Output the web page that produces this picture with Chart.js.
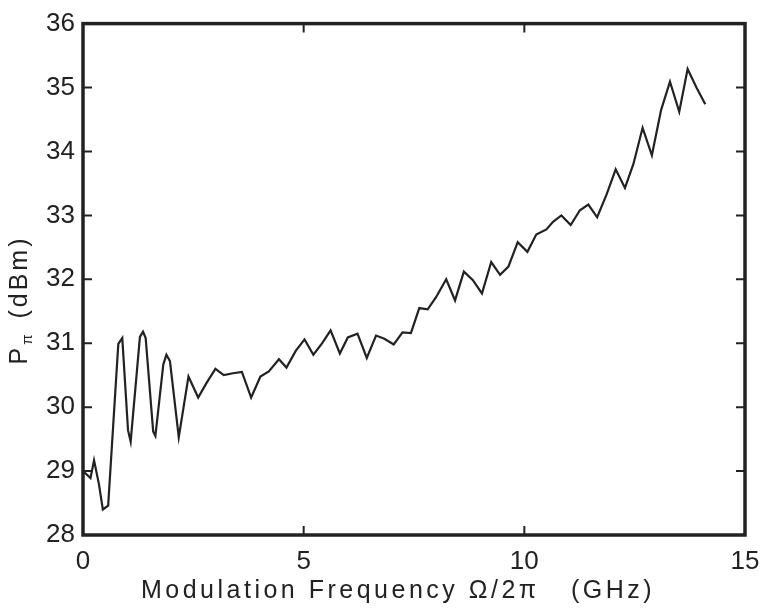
<!DOCTYPE html>
<html lang="en">

<head>
  <meta charset="UTF-8">
  <title>P pi vs modulation frequency</title>
  <script src="https://cdn.jsdelivr.net/npm/chart.js"></script>
  <style>
    body {
      margin: 0;
      background: #fff;
    }

    .wrap {
      position: relative;
      width: 763px;
      height: 610px;
    }
  </style>
</head>

<body>
  <div class="wrap"><canvas id="g"></canvas></div>

  <script>
    // frequency (GHz) and P_pi (dBm)
    const freq = [0.00, 0.17, 0.25, 0.36, 0.45, 0.57, 0.80, 0.89, 1.02, 1.08,
      1.29, 1.36, 1.42, 1.59, 1.64, 1.82, 1.89, 1.97, 2.17, 2.39,
      2.61, 2.80, 3.00, 3.19, 3.40, 3.60, 3.81, 4.02, 4.21, 4.44,
      4.61, 4.82, 5.02, 5.22, 5.42, 5.61, 5.82, 6.00, 6.22, 6.43,
      6.64, 6.83, 7.04, 7.24, 7.43, 7.62, 7.81, 8.00, 8.23, 8.43,
      8.63, 8.83, 9.04, 9.25, 9.45, 9.64, 9.85, 10.07, 10.27, 10.50,
      10.65, 10.84, 11.05, 11.26, 11.45, 11.65, 11.86, 12.07, 12.28, 12.47,
      12.68, 12.89, 13.10, 13.30, 13.51, 13.70, 13.90, 14.10];
    const ppi = [29.00, 28.89, 29.17, 28.80, 28.40, 28.46, 30.99, 31.08, 29.64, 29.46,
      31.10, 31.18, 31.08, 29.62, 29.55, 30.67, 30.82, 30.72, 29.53, 30.48,
      30.15, 30.38, 30.60, 30.50, 30.53, 30.55, 30.15, 30.48, 30.56, 30.75,
      30.62, 30.88, 31.06, 30.82, 31.00, 31.20, 30.84, 31.09, 31.15, 30.77,
      31.12, 31.07, 30.98, 31.17, 31.16, 31.55, 31.53, 31.72, 32.00, 31.67,
      32.12, 31.99, 31.78, 32.27, 32.07, 32.20, 32.58, 32.43, 32.70, 32.78,
      32.90, 33.00, 32.85, 33.08, 33.17, 32.97, 33.32, 33.72, 33.43, 33.80,
      34.37, 33.94, 34.65, 35.09, 34.62, 35.29, 35.00, 34.74];
    const xTicks = [0, 5, 10, 15];
    const yTicks = [28, 29, 30, 31, 32, 33, 34, 35, 36];
    const xTitle = 'Modulation Frequency Ω/2π   (GHz)';

    const ink = '#222';
    const fnt = 'Liberation Sans, Arial, sans-serif';

    // matlab style box with inward ticks, axis titles drawn by hand
    const box = {
      id: 'box',
      afterDraw(ch) {
        const c = ch.ctx, a = ch.chartArea;
        const sx = ch.scales.x, sy = ch.scales.y;
        c.save();
        c.strokeStyle = ink;
        c.lineWidth = 2;
        xTicks.forEach(v => {
          const px = sx.getPixelForValue(v);
          c.beginPath();
          c.moveTo(px, a.bottom); c.lineTo(px, a.bottom - 9);
          c.moveTo(px, a.top); c.lineTo(px, a.top + 9);
          c.stroke();
        });
        yTicks.forEach(v => {
          const py = sy.getPixelForValue(v);
          c.beginPath();
          c.moveTo(a.left, py); c.lineTo(a.left + 9, py);
          c.moveTo(a.right, py); c.lineTo(a.right - 9, py);
          c.stroke();
        });
        c.lineWidth = 3.5;
        c.strokeRect(a.left, a.top, a.right - a.left, a.bottom - a.top);

        c.fillStyle = ink;
        c.textBaseline = 'alphabetic';
        c.textAlign = 'center';
        c.letterSpacing = '3.5px';
        c.font = '25px ' + fnt;
        c.fillText(xTitle, 398, 598);

        c.translate(27, 300);
        c.rotate(-Math.PI / 2);
        c.textAlign = 'left';
        c.letterSpacing = '3px';
        const t1 = 'P', t3 = ' (dBm)';
        c.font = '25px ' + fnt;
        const w1 = c.measureText(t1).width;
        c.font = '15px ' + fnt;
        const w2 = c.measureText('π').width + 3;
        c.font = '25px ' + fnt;
        const w3 = c.measureText(t3).width;
        const x0 = -(w1 + w2 + w3) / 2;
        c.fillText(t1, x0, 0);
        c.font = '15px ' + fnt;
        c.fillText('π', x0 + w1, 5);
        c.font = '25px ' + fnt;
        c.fillText(t3, x0 + w1 + w2, 0);
        c.restore();
      }
    };

    new Chart(document.getElementById('g'), {
      type: 'line',
      data: {
        datasets: [{
          data: freq.map((f, i) => ({ x: f, y: ppi[i] })),
          borderColor: '#222',
          borderWidth: 2.2,
          pointRadius: 0,
          tension: 0,
          fill: false
        }]
      },
      options: {
        responsive: true,
        maintainAspectRatio: false,
        animation: false,
        layout: { padding: { top: 16, right: 18, left: 0, bottom: 0 } },
        plugins: { legend: { display: false }, tooltip: { enabled: false } },
        scales: {
          x: {
            type: 'linear',
            min: 0,
            max: 15,
            afterBuildTicks: s => { s.ticks = xTicks.map(v => ({ value: v })); },
            afterFit: s => {
              s.height = 75;
              s.paddingLeft = 0;
              s.paddingRight = 0;
            },
            grid: { display: false, drawTicks: false },
            border: { display: false },
            ticks: {
              color: ink,
              padding: 11,
              maxRotation: 0,
              autoSkip: false,
              font: { family: fnt, size: 26 }
            }
          },
          y: {
            min: 28,
            max: 36,
            afterBuildTicks: s => { s.ticks = yTicks.map(v => ({ value: v })); },
            afterFit: s => { s.width = 83; },
            grid: { display: false, drawTicks: false },
            border: { display: false },
            ticks: {
              color: ink,
              padding: 8,
              autoSkip: false,
              font: { family: fnt, size: 26 }
            }
          }
        }
      },
      plugins: [box]
    });
  </script>
</body>

</html>
